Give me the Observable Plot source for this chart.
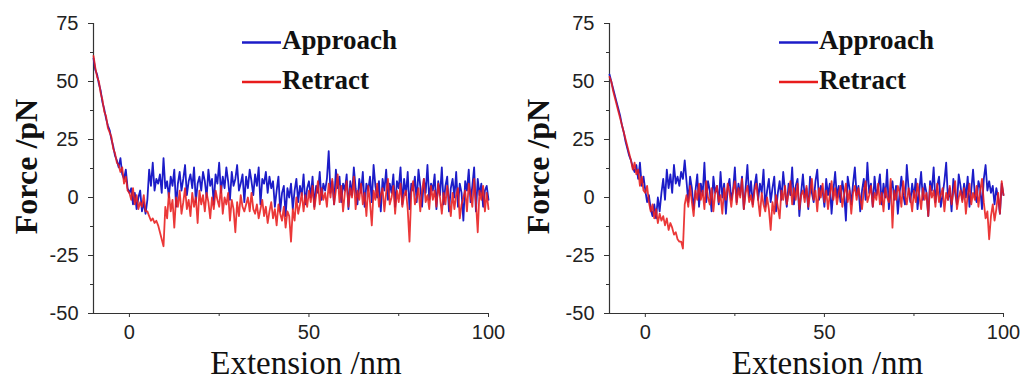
<!DOCTYPE html>
<html>
<head>
<meta charset="utf-8">
<script src="https://cdn.jsdelivr.net/npm/d3@7"></script>
<script src="https://cdn.jsdelivr.net/npm/@observablehq/plot@0.6"></script>
<style>
  html, body { margin: 0; padding: 0; background: #fff; }
  #wrap { display: flex; width: 1025px; height: 381px; overflow: hidden; }
  .panel { position: relative; }
  .legend { position: absolute; left: 0; top: 0; pointer-events: none; }
</style>
</head>
<body>
<div id="wrap"></div>
<script>
// Sampling grid of extension (nm): starts at -10, one sample every 0.5 nm up to 100
const extStart = -10;
const extStep = 0.5;

// Tick values
const yMajorTicks = [-50, -25, 0, 25, 50, 75];
const yMinorTicks = [-37.5, -12.5, 12.5, 37.5, 62.5];
const xMajorTicks = [0, 50, 100];
const xMinorTicks = [25, 75];

const seriesNames = ["Approach", "Retract"];

// Left panel, force (pN) per sample
const leftApproach = [
  60, 55, 53, 49, 46, 41, 38, 34, 31, 29,
  25, 22, 18, 16, 13, 17, 10, 8, 12, 4,
  2, 4, -3, 2, -5, 0, 3, -6, -2, -7,
  -1, 12, 5, 15, 3, 8, 6, 10, 2, 17,
  4, 7, 0, 9, 5, 12, -4, 6, 11, 3,
  8, 14, 1, 7, 10, 4, 13, -2, 6, 9,
  3, 11, 7, 0, 12, 5, 8, -3, 10, 6,
  15, 2, 9, 4, 13, 7, -1, 11, 5, 8,
  14, 3, 6, 10, -2, 9, 4, 12, 7, 1,
  10, 5, 13, -3, 8, 6, 11, 2, 9, 4,
  7, -4, 3, 9, -6, 2, 5, -8, 4, 0,
  6, -5, 3, 8, -2, 5, 1, 10, -3, 4,
  7, 0, 9, -4, 5, 2, 11, -1, 6, 3,
  8, 20, 2, 7, -3, 12, 4, 9, -2, 6,
  3, 10, -5, 7, 1, 13, 4, -3, 8, 2,
  11, -4, 6, 3, 9, -2, 14, 5, 0, 7,
  -6, 8, 3, 12, -1, 6, 2, 10, -4, 7,
  4, 13, -3, 8, 1, 11, -5, 6, 3, 9,
  -2, 12, 5, -4, 8, 2, 14, -1, 6, 3,
  10, -5, 7, 1, 13, -3, 5, 9, -6, 4,
  8, 0, 11, -4, 6, 2, -10, 7, 3, 12,
  -2, 5, 13, -6, 8, 1, 6, -4, 3, 5,
  -1
];
const leftRetract = [
  61, 56, 52, 50, 45, 42, 37, 35, 30, 28,
  26, 21, 19, 15, 14, 11, 13, 6, 9, 3,
  2, -1, 4, -3, 1, -5, -2, -4, 1, -6,
  -6, -8, -10, -9, -11, -10, -12, -15, -18, -21,
  -4, -9, 2, -6, -1, -13, 0, -4, 3, -7,
  -2, 4, -5, -1, -8, 2, -4, 0, -11, 3,
  -3, 1, -6, 2, -2, -9, 0, -5, 3, -1,
  -4, 5, -7, 0, -3, 2, -10, -1, -5, -15,
  -2, -8, 1, -4, -6, -3, 0, -6, 2, -5,
  -7, -3, -9, -5, -1, -8, -4, -11, -6, -2,
  -9, -5, -12, -3, -7, -10, -4, -13, -6, -8,
  -19, -5, -10, 0, -7, -3, 2, -6, 1, -4,
  3, -2, 5, -5, 1, 7, -3, 4, -1, 2,
  -4, 6, 0, 8, -3, 3, 10, -2, 5, -6,
  2, 7, -4, 4, 0, 9, -5, 3, -1, 6,
  -3, 2, -8, 5, -2, -12, 3, -1, 6, -4,
  1, 4, -6, 2, 8, -3, 0, 5, -7, 3,
  -2, 6, -4, 1, 3, -5, -19, 2, 7, -3,
  0, 4, -6, 3, 8, -2, 1, -5, 5, -1,
  3, -4, 6, 0, -7, 2, -3, 5, -1, -8,
  2, -5, 1, 4, -9, -3, 0, 3, -6, 6,
  1, -4, 8, -2, -15, 3, -1, 5, -6, 2,
  -5
];

// Right panel, force (pN) per sample
const rightApproach = [
  53, 50, 47, 44, 41, 38, 35, 31, 28, 24,
  21, 18, 16, 13, 11, 14, 8, 15, 5, 9,
  3, -2, 1, -5, -8, -3, -9, 0, -6, 2,
  8, -1, 12, 4, 10, 2, 14, 6, 9, 5,
  11, 8, 16, 7, -2, 9, 4, -5, 3, 10,
  -4, 6, 1, 15, -2, 7, 3, -6, 9, 2,
  5, -3, 11, 0, 6, -7, 4, 8, -1, 3,
  13, -2, 6, 1, 9, -5, 4, 14, 0, 7,
  -3, 5, 10, -1, 6, 2, 12, -4, 3, 8,
  -2, 4, 9, -6, 2, 7, -1, 11, 3, -4,
  6, 1, 13, -3, 5, 8, -8, 2, 10, 0,
  4, -5, 9, 2, -2, 7, 12, -1, 5, 3,
  -4, 8, 1, 6, -7, 3, 11, 0, 5, -2,
  7, 2, -10, 9, 4, -3, 6, 13, 1, 5,
  -6, 3, 8, -1, 15, 2, 6, -4, 9, 1,
  4, 10, -3, 6, 0, 12, -5, 3, 7, -1,
  5, -7, 2, 9, 1, -3, 14, 4, -2, 6,
  0, 8, -5, 3, 11, -1, 6, 2, -8, 7,
  3, 13, -2, 5, 9, -4, 1, 7, 15, -1,
  4, -6, 8, 2, -3, 10, 5, -1, 6, 0,
  9, -4, 3, 12, 1, -2, 7, 4, -5, 8,
  14, 3, 7, 2, 5, -3, 4, 0, -7, 6,
  1
];
const rightRetract = [
  52, 50, 46, 43, 40, 37, 34, 31, 28, 25,
  22, 19, 16, 12, 15, 10, 12, 5, 9, 3,
  2, 5, -2, -6, -3, -9, -5, -11, -7, -10,
  -8, -12, -9, -14, -11, -13, -16, -15, -18, -19,
  -19, -22, -3, 1, -4, 5, -2, -8, 3, -1,
  6, -1, 3, -5, 7, 0, -3, 4, -6, 2,
  5, -2, 1, -7, 4, -1, 6, 2, -4, 3,
  7, -3, 4, 0, 8, -5, 2, 5, -2, 1,
  -4, 3, 6, -1, -8, 2, -3, -6, 0, -5,
  -14, -2, -7, 1, -4, -9, 3, -1, 5, -3,
  2, 7, -3, 4, -1, 6, -5, 1, 3, -2,
  5, -4, 2, 8, -1, 3, -6, 4, 0, 6,
  -2, 3, -5, 1, 7, -1, 4, -3, 2, 5,
  -4, 1, 6, -2, 3, -7, 2, 5, -1, 4,
  0, -5, 3, 7, -2, 1, 5, -4, 2, -1,
  6, -3, 2, -6, 4, 0, -2, 8, -13, 3,
  -1, 5, 2, -4, 7, 1, -3, 4, 0, -6,
  3, -2, 6, 1, -5, 4, -1, 2, -8, 5,
  0, 3, -4, 6, -2, 1, 4, -6, 2, -1,
  5, -3, 2, 7, -5, 0, 3, -2, 4, -7,
  1, 6, -3, 2, -1, 5, -4, 3, 8, -2,
  -9, -6, -18, -8, -3, -10, -5, 2, -7, 7,
  1
];

const blue = "#1c1cc8";
const red = "#e81c1c";
const serif = "'Liberation Serif', 'Times New Roman', serif";
const sans = "'Liberation Sans', Arial, sans-serif";

function toRows(vals) {
  return vals.map((f, i) => ({ext: extStart + i * extStep, force: f}));
}

function panel(approach, retract, opts) {
  const wrap = document.createElement("div");
  wrap.className = "panel";
  const chart = Plot.plot({
    width: opts.width,
    height: 381,
    marginLeft: opts.marginLeft,
    marginRight: opts.marginRight,
    marginTop: 23,
    marginBottom: 68,
    x: {domain: [-10, 100]},
    y: {domain: [-50, 75]},
    style: {background: "#fff", fontFamily: sans, color: "#222", overflow: "visible"},
    marks: [
      Plot.axisY({ticks: yMajorTicks, tickSize: 5, tickPadding: 10, fontSize: 20, label: null,
                  tickFormat: d => String(d), stroke: "#333", fill: "#222"}),
      Plot.axisY({ticks: yMinorTicks, tickSize: 3, text: null, label: null, stroke: "#333"}),
      Plot.axisX({ticks: xMajorTicks, tickSize: 4, tickPadding: 7, fontSize: 20, label: null,
                  tickFormat: d => String(d), stroke: "#333", fill: "#222"}),
      Plot.axisX({ticks: xMinorTicks, tickSize: 3, text: null, label: null, stroke: "#333"}),
      Plot.ruleX([-10], {stroke: "#333", strokeWidth: 1.2}),
      Plot.ruleY([-50], {stroke: "#333", strokeWidth: 1.2, insetLeft: -5}),
      Plot.line(toRows(approach), {x: "ext", y: "force", stroke: blue, strokeWidth: 1.8}),
      Plot.line(toRows(retract), {x: "ext", y: "force", stroke: red, strokeWidth: 1.8, strokeOpacity: 0.88}),
      Plot.text(["Force /pN"], {text: d => d, frameAnchor: "left", rotate: -90, dx: opts.yLabelDx, dy: -2,
                  fontSize: 32, fontWeight: "bold", fontFamily: serif, fill: "#111",
                  textAnchor: "middle", lineAnchor: "middle"}),
      Plot.text(["Extension /nm"], {text: d => d, frameAnchor: "bottom", dx: opts.xLabelDx, dy: 60,
                  fontSize: 33, fontFamily: serif, fill: "#111",
                  textAnchor: "middle", lineAnchor: "bottom"})
    ]
  });
  wrap.appendChild(chart);

  // Legend overlay
  const ns = "http://www.w3.org/2000/svg";
  const leg = document.createElementNS(ns, "svg");
  leg.setAttribute("class", "legend");
  leg.setAttribute("width", opts.width);
  leg.setAttribute("height", 110);
  const items = [{name: seriesNames[0], color: blue, y: 42.5}, {name: seriesNames[1], color: red, y: 82}];
  for (const it of items) {
    const ln = document.createElementNS(ns, "line");
    ln.setAttribute("x1", opts.legendX);
    ln.setAttribute("x2", opts.legendX + 39);
    ln.setAttribute("y1", it.y);
    ln.setAttribute("y2", it.y);
    ln.setAttribute("stroke", it.color);
    ln.setAttribute("stroke-width", 2.6);
    leg.appendChild(ln);
    const tx = document.createElementNS(ns, "text");
    tx.setAttribute("x", opts.legendX + 40);
    tx.setAttribute("y", it.y + 6.5);
    tx.setAttribute("font-family", serif);
    tx.setAttribute("font-weight", "bold");
    tx.setAttribute("font-size", 27);
    tx.setAttribute("fill", "#111");
    tx.textContent = it.name;
    leg.appendChild(tx);
  }
  wrap.appendChild(leg);
  return wrap;
}

const root = document.getElementById("wrap");
root.appendChild(panel(leftApproach, leftRetract,
  {width: 512, marginLeft: 93, marginRight: 24, yLabelDx: -67, xLabelDx: 15, legendX: 242}));
root.appendChild(panel(rightApproach, rightRetract,
  {width: 513, marginLeft: 97, marginRight: 22, yLabelDx: -71, xLabelDx: 21, legendX: 267}));
</script>
</body>
</html>
